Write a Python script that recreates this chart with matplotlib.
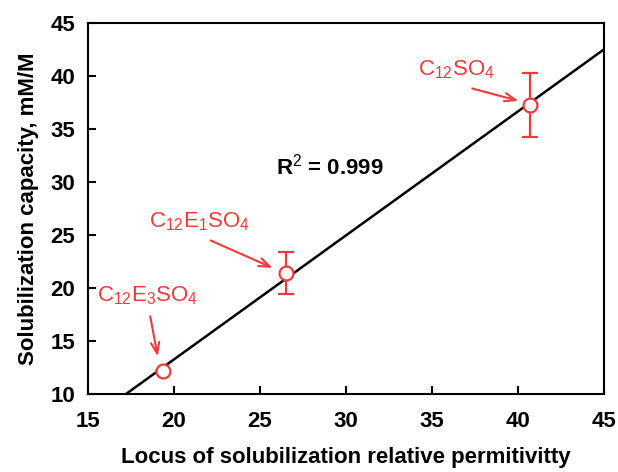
import numpy as np
import matplotlib
matplotlib.use("Agg")
import matplotlib.pyplot as plt

plt.rcParams['font.family'] = ['Liberation Sans', 'DejaVu Sans']
plt.rcParams['mathtext.fontset'] = 'custom'
plt.rcParams['mathtext.rm'] = 'Liberation Sans'
plt.rcParams['mathtext.it'] = 'Liberation Sans'
plt.rcParams['mathtext.bf'] = 'Liberation Sans:bold'

# Data
names = [r'C$_{12}$E$_3$SO$_4$', r'C$_{12}$E$_1$SO$_4$', r'C$_{12}$SO$_4$']
permittivity = [19.4, 26.5, 40.7]
capacity = [12.2, 21.4, 37.3]
cap_err = [0.0, 2.0, 3.0]
r2_label = r'R$^2$ = 0.999'

red = '#f03a3a'

fig = plt.figure(figsize=(6.18, 4.72), dpi=100)
ax = fig.add_axes([0.142, 0.165, 0.835, 0.786])

# fit line
slope, intercept = np.polyfit(permittivity, capacity, 1)
xl = np.array([15, 45])
ax.plot(xl, slope * xl + intercept, color='black', lw=1.8, zorder=2)

ax.errorbar(permittivity, capacity, yerr=cap_err, fmt='o', mfc='white',
            mec=red, ecolor=red, ms=10, mew=1.6, elinewidth=1.6,
            capsize=6, capthick=1.6, zorder=3)

# annotations
ann = [((18.5, 19.3), (18.6, 17.6), (19.1, 13.3)),
       ((21.5, 26.3), (22.0, 24.6), (25.9, 21.8)),
       ((36.4, 40.6), (37.2, 38.9), (40.2, 37.6))]
for name, (tpos, tail, head) in zip(names, ann):
    ax.text(tpos[0], tpos[1], name, color=red, fontsize=16, ha='center', va='center')
    ax.annotate('', xy=head, xytext=tail,
                arrowprops=dict(arrowstyle='->,head_length=0.8,head_width=0.3',
                                color=red, lw=1.5))

ax.text(29.1, 31.5, r2_label, fontsize=16, fontweight='bold', ha='center', va='center')

ax.set_xlim(15, 45)
ax.set_ylim(10, 45)
ax.set_xticks(np.arange(15, 46, 5))
ax.set_yticks(np.arange(10, 46, 5))
ax.tick_params(axis='x', direction='in', length=6, width=1.5, labelsize=16, pad=12)
ax.tick_params(axis='y', direction='in', length=6, width=1.5, labelsize=16, pad=9)
for lab in ax.get_xticklabels() + ax.get_yticklabels():
    lab.set_fontweight('bold')
for s in ax.spines.values():
    s.set_linewidth(1.5)

ax.set_xlabel('Locus of solubilization relative permitivitty', fontsize=16,
              fontweight='bold', labelpad=11)
ax.set_ylabel('Solubilization capacity, mM/M', fontsize=16, fontweight='bold',
              labelpad=8)

fig.savefig('out.png', dpi=100)
